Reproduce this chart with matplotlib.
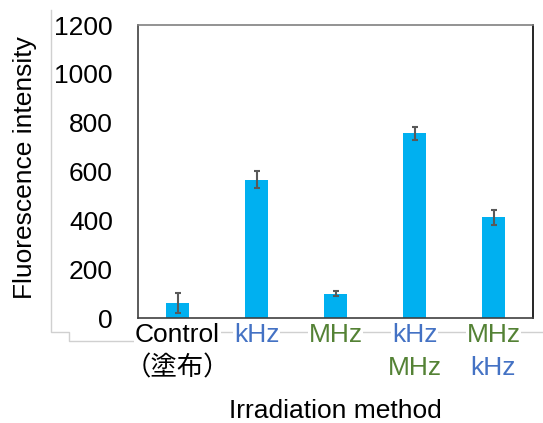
import matplotlib.pyplot as plt
from matplotlib.lines import Line2D
from matplotlib.transforms import blended_transform_factory

plt.rcParams["font.family"] = ["Liberation Sans", "Noto Sans CJK JP", "DejaVu Sans"]

# data
values = [60, 567, 100, 757, 413]
errors = [41, 35, 10, 26, 31]
# each category label is a list of (line text, colour)
labels = [
    [("Control", "black"), ("（塗布）", "black")],
    [("kHz", "#4472C4")],
    [("MHz", "#548235")],
    [("kHz", "#4472C4"), ("MHz", "#548235")],
    [("MHz", "#548235"), ("kHz", "#4472C4")],
]
yticks = [0, 200, 400, 600, 800, 1000, 1200]

W, H = 543, 423
FS = 19
fig = plt.figure(figsize=(W / 100, H / 100), dpi=100)

# faint outline of the outer chart area (behind everything)
def px_line(xs, ys):
    fig.add_artist(Line2D([x / W for x in xs], [1 - y / H for y in ys],
                          color="#d0d0d0", lw=1, zorder=0))

px_line([51, 51, 69, 69, 175, 175, 543], [10, 332, 332, 341, 341, 332, 332])

ax = fig.add_axes([138 / W, 1 - 318 / H, 395 / W, 293 / H])
x = list(range(len(values)))
ax.bar(x, values, width=0.3, color="#00B0F0", zorder=2)
ax.errorbar(x, values, yerr=errors, fmt="none", ecolor="#595959",
            elinewidth=1.5, capsize=2.5, capthick=1.5, zorder=3)

ax.set_xlim(-0.5, len(values) - 0.5)
ax.set_ylim(0, 1200)
ax.set_yticks(yticks)
ax.set_yticklabels([str(t) for t in yticks], fontsize=FS)
ax.tick_params(axis="y", length=0, pad=18)
ax.set_xticks([])

for side, col in [("top", "#808080"), ("right", "black"),
                  ("left", "#404040"), ("bottom", "#404040")]:
    ax.spines[side].set_color(col)
    ax.spines[side].set_linewidth(1.2)

trans = blended_transform_factory(ax.transData, fig.transFigure)
for i, lines in enumerate(labels):
    for j, (txt, col) in enumerate(lines):
        ax.text(i, 1 - (335 + 33 * j) / H, txt, transform=trans, color=col,
                fontsize=FS, ha="center", va="center",
                bbox=dict(facecolor="white", edgecolor="none", pad=0.5))

fig.text(25 / W, 1 - 168 / H, "Fluorescence intensity", rotation=90,
         fontsize=FS, ha="center", va="center")
fig.text(335 / W, 1 - 411 / H, "Irradiation method", fontsize=FS,
         ha="center", va="center")

fig.savefig("out.png", dpi=100)
